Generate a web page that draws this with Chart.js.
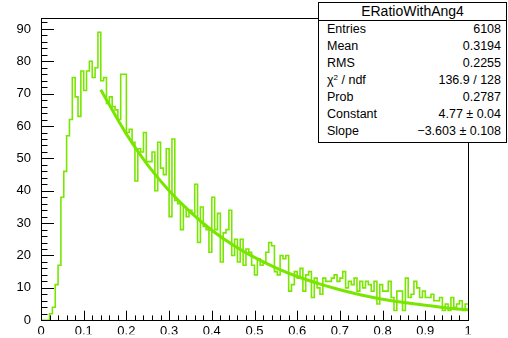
<!DOCTYPE html>
<html>
<head>
<meta charset="utf-8">
<script src="https://cdn.jsdelivr.net/npm/chart.js@4/dist/chart.umd.min.js"></script>
<style>
  body { margin: 0; background: #fff; }
  #wrap { position: relative; width: 508px; height: 338px; }
  #stats {
    position: absolute; left: 318px; top: 2px; width: 187px; height: 139px;
    border: 1px solid #000; background: #fff;
    font-family: "Liberation Sans", Arial, sans-serif; font-size: 12.5px; color: #000;
  }
  #stats .titre { height: 17px; line-height: 17px; text-align: center; font-size: 14px; border-bottom: 1px solid #000; }
  #stats .ligne { height: 17px; line-height: 17px; display: flex; justify-content: space-between; padding: 0 5px 0 8px; }
  #stats sup { font-size: 8px; line-height: 0; vertical-align: baseline; position: relative; bottom: 4px; }
</style>
</head>
<body>
<div id="wrap">
  <canvas id="histo" width="508" height="338"></canvas>
  <div id="stats"></div>
</div>
<script>
var nBins = 150;
var xMin = 0;
var xMax = 1;

var contenus = [
  0, 0, 0, 2, 4, 11, 17, 38, 46, 57,
  62, 75, 69, 63, 77, 71, 77, 80, 75, 78,
  89, 74, 75, 67, 69, 66, 65, 62, 76, 76,
  58, 59, 55, 43, 53, 52, 58, 49, 49, 52,
  40, 55, 47, 45, 53, 32, 56, 37, 36, 28,
  35, 32, 34, 33, 42, 24, 35, 29, 28, 21,
  38, 28, 33, 18, 27, 28, 34, 20, 25, 18,
  25, 17, 22, 21, 17, 14, 19, 17, 18, 21,
  24, 23, 15, 14, 20, 19, 20, 9, 11, 15,
  13, 16, 9, 14, 15, 7, 13, 10, 8, 13,
  12, 12, 13, 14, 12, 13, 15, 10, 12, 11,
  13, 9, 12, 10, 12, 11, 9, 12, 5, 11,
  9, 9, 12, 7, 3, 9, 9, 3, 13, 7,
  8, 12, 10, 7, 9, 7, 7, 8, 6, 6,
  7, 3, 5, 3, 7, 4, 5, 6, 3, 5
];

// courbe d'ajustement
var fitX = [0.14, 0.2, 0.25, 0.3, 0.35, 0.4, 0.45, 0.5, 0.55, 0.6, 0.65, 0.7, 0.75, 0.8, 0.85, 0.9, 0.95, 1.0];
var fitY = [71.2, 57.5, 47.9, 40.0, 33.4, 27.8, 23.2, 19.4, 16.2, 13.5, 11.3, 9.4, 7.8, 6.5, 5.5, 4.6, 3.8, 3.2];

var ticksY = [0, 10, 20, 30, 40, 50, 60, 70, 80, 90];

var statsNoms    = ["Entries", "Mean", "RMS", "χ<sup>2</sup> / ndf", "Prob", "Constant", "Slope"];
var statsValeurs = ["6108", "0.3194", "0.2255", "136.9 / 128", "0.2787", "4.77 ± 0.04", "−3.603 ± 0.108"];

var vert = "#79e600";

var pointsHisto = [];
for (var i = 0; i < nBins; i++) {
  pointsHisto.push({ x: xMin + i * (xMax - xMin) / nBins, y: contenus[i] });
}
pointsHisto.push({ x: xMax, y: contenus[nBins - 1] });

var pointsFit = fitX.map(function(x, i) { return { x: x, y: fitY[i] }; });

var html = "<div class='titre'>ERatioWithAng4</div>";
statsNoms.forEach(function(nom, i) {
  html += "<div class='ligne'><span>" + nom + "</span><span>" + statsValeurs[i] + "</span></div>";
});
document.getElementById("stats").innerHTML = html;

var cadreRoot = {
  id: "cadreRoot",
  afterDraw: function(chart) {
    var ctx = chart.ctx;
    var a = chart.chartArea;
    var sx = chart.scales.x;
    var sy = chart.scales.y;
    ctx.save();
    ctx.strokeStyle = "#000";
    ctx.lineWidth = 1;
    ctx.strokeRect(Math.round(a.left) + 0.5, Math.round(a.top) + 0.5,
                   Math.round(a.right - a.left), Math.round(a.bottom - a.top));
    ctx.beginPath();
    for (var v = 0; v <= 92; v += 2) {
      var y = Math.round(sy.getPixelForValue(v)) + 0.5;
      var l = (v % 10 === 0) ? 13 : 6.5;
      ctx.moveTo(a.left, y);
      ctx.lineTo(a.left + l, y);
    }
    for (var k = 0; k <= 50; k++) {
      var x = Math.round(sx.getPixelForValue(k / 50)) + 0.5;
      var h = (k % 5 === 0) ? 9.5 : 4.8;
      ctx.moveTo(x, a.bottom);
      ctx.lineTo(x, a.bottom - h);
    }
    ctx.stroke();
    ctx.restore();
  }
};

var policeAxe = { family: "'Liberation Sans', Arial, sans-serif", size: 13 };

new Chart(document.getElementById("histo"), {
  type: "line",
  data: {
    datasets: [
      {
        data: pointsFit,
        borderColor: vert,
        borderWidth: 3,
        pointRadius: 0,
        cubicInterpolationMode: "monotone",
        order: 0
      },
      {
        data: pointsHisto,
        borderColor: vert,
        borderWidth: 1.6,
        pointRadius: 0,
        stepped: true,
        order: 1
      }
    ]
  },
  options: {
    responsive: false,
    animation: false,
    devicePixelRatio: 1,
    layout: { padding: { top: 16, right: 40, left: 0, bottom: 0 } },
    plugins: { legend: { display: false }, tooltip: { enabled: false } },
    scales: {
      x: {
        type: "linear",
        min: 0,
        max: 1,
        grid: { display: false, drawTicks: false },
        border: { display: false },
        ticks: {
          stepSize: 0.1,
          padding: 3,
          maxRotation: 0,
          color: "#000",
          font: policeAxe,
          callback: function(v) {
            var r = Math.round(v * 10) / 10;
            return (r === 0 || r === 1) ? String(r) : r.toFixed(1);
          }
        },
        afterFit: function(s) { s.height = 14; }
      },
      y: {
        min: 0,
        max: 93.45,
        grid: { display: false, drawTicks: false },
        border: { display: false },
        ticks: {
          padding: 10,
          color: "#000",
          font: policeAxe
        },
        afterBuildTicks: function(s) {
          s.ticks = ticksY.map(function(v) { return { value: v }; });
        },
        afterFit: function(s) { s.width = 41; }
      }
    }
  },
  plugins: [cadreRoot]
});
</script>
</body>
</html>
